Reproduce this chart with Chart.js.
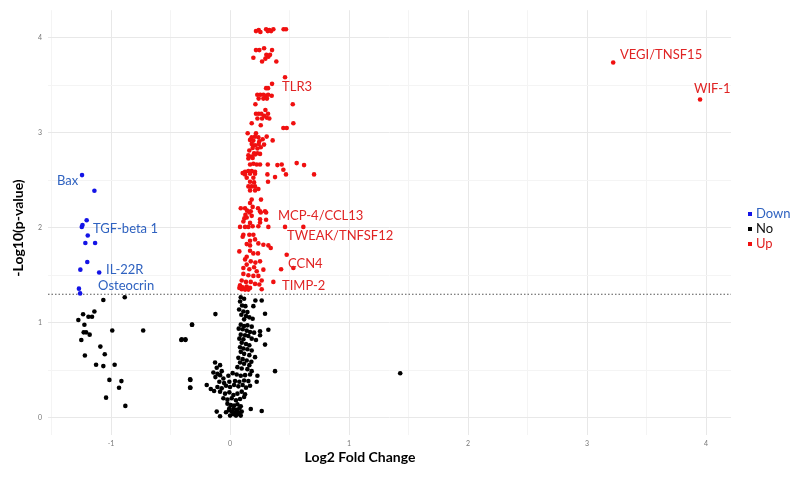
<!DOCTYPE html>
<html>
<head>
<meta charset="utf-8">
<script src="https://cdn.jsdelivr.net/npm/chart.js@4.4.1/dist/chart.umd.min.js"></script>
<style>
  html, body { margin: 0; padding: 0; background: #fff; }
  #wrap { width: 800px; height: 483px; position: relative; }
</style>
</head>
<body>
<div id="wrap"><canvas id="volcano"></canvas></div>
<script>
// significance cut-off, -log10(0.05)
const pThreshold = 1.301;

// [log2 fold change, -log10 p]
const downGenes = [
  [-1.244, 2.555], [-1.14, 2.39], [-1.205, 2.08], [-1.24, 2.03], [-1.246, 2.01],
  [-1.196, 1.92], [-1.216, 1.84], [-1.134, 1.84], [-1.20, 1.64], [-1.258, 1.56],
  [-1.10, 1.53], [-1.27, 1.36], [-1.26, 1.31]
];

const noGenes = [
  [-1.065, 1.24], [-0.885, 1.27], [-1.235, 1.09], [-1.14, 1.12], [-1.19, 1.065],
  [-1.16, 1.065], [-1.275, 1.03], [-1.224, 0.98], [-0.32, 0.98], [-0.99, 0.92],
  [-0.73, 0.92], [-1.23, 0.90], [-1.21, 0.90], [-1.18, 0.876], [-1.25, 0.82],
  [-0.41, 0.82], [-0.375, 0.82], [-1.09, 0.75], [-1.053, 0.67], [-1.22, 0.656],
  [-1.126, 0.56], [-1.065, 0.545], [-0.97, 0.56], [-1.014, 0.40], [-0.913, 0.387],
  [-0.933, 0.317], [-0.333, 0.40], [-0.333, 0.317], [-1.042, 0.213], [-0.88, 0.126],
  [1.43, 0.47],
  [0.09, 1.27], [0.118, 1.253], [0.084, 1.225], [0.101, 1.183], [0.129, 1.176],
  [0.076, 1.141], [0.112, 1.12], [0.146, 1.113], [0.095, 1.086], [0.134, 1.071],
  [0.162, 1.058], [0.118, 1.037], [0.19, 1.044], [0.213, 1.236], [0.266, 1.236],
  [0.196, 1.176], [0.294, 1.096], [-0.123, 1.092], [0.09, 0.981], [0.118, 0.967],
  [0.146, 0.974], [0.182, 0.96], [0.073, 0.939], [0.106, 0.932], [0.14, 0.918],
  [0.168, 0.904], [0.202, 0.897], [0.252, 0.911], [0.322, 0.928], [-0.319, 0.981],
  [0.09, 0.876], [0.126, 0.869], [0.154, 0.862], [0.078, 0.834], [0.112, 0.827],
  [0.182, 0.834], [0.218, 0.82], [0.252, 0.869], [-0.406, 0.827], [-0.375, 0.827],
  [0.098, 0.792], [0.134, 0.778], [0.162, 0.764], [0.084, 0.743], [0.112, 0.73],
  [0.146, 0.723], [0.182, 0.709], [0.294, 0.771], [0.09, 0.695], [0.118, 0.674],
  [0.162, 0.66], [0.21, 0.639], [0.07, 0.632], [0.106, 0.618], [0.14, 0.604],
  [0.084, 0.583], [0.118, 0.569], [0.162, 0.555], [0.179, 0.59], [-0.126, 0.583],
  [-0.084, 0.555], [-0.112, 0.527], [-0.07, 0.492], [0.062, 0.534], [0.098, 0.52],
  [0.146, 0.513], [0.182, 0.492], [0.378, 0.492], [-0.336, 0.405], [-0.336, 0.318],
  [-0.14, 0.478], [-0.106, 0.464], [-0.123, 0.429], [-0.084, 0.45], [-0.056, 0.415],
  [-0.014, 0.443], [0.022, 0.471], [0.056, 0.457], [0.09, 0.443], [0.126, 0.45],
  [0.168, 0.457], [0.23, 0.443], [-0.09, 0.38], [-0.05, 0.366], [-0.006, 0.38],
  [0.042, 0.387], [0.078, 0.38], [0.118, 0.394], [0.154, 0.387], [-0.196, 0.346],
  [-0.162, 0.304], [-0.134, 0.283], [-0.106, 0.325], [-0.07, 0.311], [-0.034, 0.339],
  [0.0, 0.325], [0.034, 0.346], [0.07, 0.332], [0.106, 0.346], [0.134, 0.318],
  [0.168, 0.339], [0.224, 0.38], [-0.084, 0.276], [-0.042, 0.255], [-0.006, 0.269],
  [0.028, 0.241], [0.062, 0.255], [0.098, 0.276], [0.126, 0.248], [-0.056, 0.206],
  [-0.022, 0.192], [0.014, 0.206], [0.05, 0.185], [0.084, 0.199], [0.118, 0.22],
  [-0.022, 0.15], [0.006, 0.136], [0.034, 0.129], [0.062, 0.143], [0.09, 0.122],
  [-0.006, 0.101], [0.028, 0.094], [0.056, 0.084], [0.078, 0.101], [0.014, 0.066],
  [0.042, 0.052], [0.07, 0.059], [0.098, 0.066], [-0.112, 0.066], [-0.084, 0.017],
  [0.174, 0.094], [0.266, 0.073], [-0.034, 0.059], [0.0, 0.024], [0.05, 0.024],
  [0.078, 0.038], [0.028, 0.038], [0.09, 0.024], [-0.01, 0.08]
];

const upGenes = [
  [3.22, 3.74], [3.95, 3.35],
  [0.218, 4.07], [0.241, 4.08], [0.255, 4.06], [0.303, 4.09], [0.317, 4.07],
  [0.33, 4.08], [0.345, 4.07], [0.364, 4.09], [0.45, 4.09], [0.47, 4.09],
  [0.218, 3.87], [0.246, 3.87], [0.286, 3.89], [0.353, 3.87], [0.196, 3.79],
  [0.305, 3.82], [0.336, 3.82], [0.322, 3.80], [0.297, 3.78], [0.269, 3.75],
  [0.389, 3.75], [0.462, 3.585], [0.353, 3.515], [0.303, 3.47], [0.319, 3.47],
  [0.229, 3.40], [0.254, 3.40], [0.28, 3.40], [0.30, 3.39], [0.32, 3.40],
  [0.35, 3.39], [0.24, 3.36], [0.28, 3.36], [0.31, 3.36], [0.213, 3.30],
  [0.527, 3.30], [0.297, 3.24], [0.218, 3.20], [0.241, 3.20], [0.263, 3.20],
  [0.319, 3.20], [0.286, 3.18], [0.308, 3.16], [0.23, 3.15], [0.269, 3.15],
  [0.33, 3.15], [0.182, 3.10], [0.258, 3.08], [0.532, 3.10], [0.448, 3.05],
  [0.476, 3.05], [0.358, 2.92],
  [0.148, 2.995], [0.218, 2.995], [0.182, 2.953], [0.21, 2.96], [0.238, 2.953],
  [0.308, 2.96], [0.168, 2.925], [0.196, 2.918], [0.246, 2.911], [0.274, 2.932],
  [0.182, 2.883], [0.21, 2.869], [0.241, 2.883], [0.286, 2.876], [0.19, 2.841],
  [0.23, 2.834], [0.258, 2.848], [0.162, 2.813], [0.202, 2.785], [0.23, 2.785],
  [0.252, 2.778], [0.154, 2.764], [0.182, 2.75], [0.21, 2.771], [0.154, 2.73],
  [0.19, 2.736], [0.168, 2.667], [0.196, 2.674], [0.224, 2.667], [0.252, 2.667],
  [0.317, 2.667], [0.398, 2.66], [0.434, 2.667], [0.56, 2.681], [0.622, 2.66],
  [0.126, 2.59], [0.154, 2.597], [0.182, 2.597], [0.21, 2.59], [0.126, 2.562],
  [0.168, 2.569], [0.21, 2.569], [0.314, 2.562], [0.378, 2.534], [0.448, 2.611],
  [0.47, 2.562], [0.706, 2.562], [0.14, 2.527], [0.196, 2.527], [0.106, 2.576],
  [0.168, 2.485], [0.202, 2.478], [0.319, 2.485], [0.154, 2.436], [0.182, 2.436],
  [0.21, 2.436], [0.238, 2.408], [0.168, 2.394], [0.21, 2.394], [0.182, 2.297],
  [0.26, 2.297], [0.168, 2.262], [0.09, 2.206], [0.126, 2.206], [0.19, 2.22],
  [0.235, 2.206], [0.143, 2.181], [0.174, 2.174], [0.252, 2.174], [0.294, 2.174],
  [0.129, 2.136], [0.12, 2.099], [0.303, 2.085],
  [0.162, 2.161], [0.258, 2.161], [0.303, 2.161], [0.14, 2.108], [0.182, 2.126],
  [0.252, 2.091], [0.112, 2.066], [0.168, 2.052], [0.252, 2.056], [0.084, 2.01],
  [0.126, 2.01], [0.154, 2.01], [0.19, 2.017], [0.238, 2.017], [0.322, 2.01],
  [0.462, 2.01], [0.616, 2.01], [0.112, 1.927], [0.162, 1.927], [0.196, 1.927],
  [0.106, 1.906], [0.168, 1.864], [0.21, 1.878], [0.238, 1.836], [0.14, 1.829],
  [0.168, 1.815], [0.322, 1.815], [0.342, 1.787], [0.28, 1.822], [0.078, 1.752],
  [0.168, 1.759], [0.196, 1.731], [0.235, 1.731], [0.14, 1.696], [0.476, 1.717],
  [0.126, 1.668], [0.174, 1.647], [0.213, 1.634], [0.252, 1.647], [0.14, 1.613],
  [0.429, 1.564], [0.532, 1.578], [0.112, 1.578], [0.162, 1.564], [0.202, 1.585],
  [0.224, 1.543], [0.112, 1.515], [0.154, 1.501], [0.238, 1.494], [0.196, 1.494],
  [0.266, 1.445], [0.364, 1.431], [0.098, 1.445], [0.134, 1.431], [0.174, 1.431],
  [0.21, 1.41], [0.084, 1.396], [0.106, 1.375], [0.14, 1.382], [0.168, 1.368],
  [0.246, 1.403], [0.098, 1.354], [0.126, 1.35], [0.154, 1.35], [0.078, 1.368],
  [0.266, 1.354], [0.28, 1.56]
];

// gene name, text left x, text centre y (data units), group
const geneLabels = [
  ['Bax', -1.454, 2.49, 'down'],
  ['TGF-beta 1', -1.151, 1.99, 'down'],
  ['IL-22R', -1.042, 1.56, 'down'],
  ['Osteocrin', -1.109, 1.39, 'down'],
  ['TLR3', 0.437, 3.48, 'up'],
  ['MCP-4/CCL13', 0.403, 2.13, 'up'],
  ['TWEAK/TNFSF12', 0.479, 1.92, 'up'],
  ['CCN4', 0.487, 1.62, 'up'],
  ['TIMP-2', 0.437, 1.39, 'up'],
  ['VEGI/TNSF15', 3.277, 3.82, 'up'],
  ['WIF-1', 3.899, 3.46, 'up']
];

const legendItems = ['Down', 'No', 'Up'];
const xRange = [-1.53, 4.21];
const yRange = [-0.18, 4.29];
// gridlines every 0.5, labels on whole numbers only
const xTicks = [-1.5, -1, -0.5, 0, 0.5, 1, 1.5, 2, 2.5, 3, 3.5, 4];
const yTicks = [0, 0.5, 1, 1.5, 2, 2.5, 3, 3.5, 4];

const pointColors = { down: '#1414e6', no: '#000000', up: '#f01010' };
const textColors = { down: '#2f62c0', no: '#111111', up: '#e02424' };
const FONT = 'Lato, "Open Sans", sans-serif';

const toXY = (list) => list.map(([x, y]) => ({ x, y }));
const isWhole = (v) => Math.abs(v - Math.round(v)) < 1e-6;

const decorations = {
  id: 'decorations',
  beforeDatasetsDraw(chart) {
    const { ctx, chartArea, scales } = chart;
    const y = scales.y.getPixelForValue(pThreshold);
    ctx.save();
    ctx.strokeStyle = '#555';
    ctx.lineWidth = 1;
    ctx.setLineDash([1.5, 2]);
    ctx.beginPath();
    ctx.moveTo(chartArea.left, y);
    ctx.lineTo(chartArea.right, y);
    ctx.stroke();
    ctx.restore();
  },
  afterDraw(chart) {
    const { ctx, scales } = chart;
    ctx.save();
    ctx.textBaseline = 'middle';
    ctx.textAlign = 'left';
    ctx.font = '13px ' + FONT;
    geneLabels.forEach(([name, x, y, group]) => {
      ctx.fillStyle = textColors[group];
      ctx.fillText(name, scales.x.getPixelForValue(x), scales.y.getPixelForValue(y));
    });

    // axis titles
    ctx.fillStyle = '#000';
    ctx.font = 'bold 14px ' + FONT;
    ctx.textAlign = 'center';
    ctx.fillText('Log2 Fold Change', 360, 457);
    ctx.save();
    ctx.translate(18, 228);
    ctx.rotate(-Math.PI / 2);
    ctx.fillText('-Log10(p-value)', 0, 0);
    ctx.restore();

    // legend
    ctx.textAlign = 'left';
    ctx.font = '13px ' + FONT;
    const keys = ['down', 'no', 'up'];
    legendItems.forEach((label, i) => {
      const cy = 214 + i * 15;
      ctx.fillStyle = pointColors[keys[i]];
      ctx.fillRect(748, cy - 2, 4, 4);
      ctx.fillStyle = textColors[keys[i]];
      ctx.fillText(label, 756, cy);
    });
    ctx.restore();
  }
};

const dataset = (label, list, key) => ({
  label,
  data: toXY(list),
  backgroundColor: pointColors[key],
  borderWidth: 0,
  pointRadius: 2.3,
  pointHoverRadius: 2.3
});

const axis = (range, ticks, extra) => Object.assign({
  type: 'linear',
  min: range[0],
  max: range[1],
  afterBuildTicks: (s) => { s.ticks = ticks.map((value) => ({ value })); },
  border: { display: false },
  grid: {
    drawTicks: false,
    color: (c) => (c.tick && isWhole(c.tick.value) ? '#e8e8e8' : '#f4f4f4'),
    lineWidth: 1
  }
}, extra);

new Chart(document.getElementById('volcano'), {
  type: 'scatter',
  data: {
    datasets: [
      dataset('No', noGenes, 'no'),
      dataset('Up', upGenes, 'up'),
      dataset('Down', downGenes, 'down')
    ]
  },
  options: {
    responsive: true,
    maintainAspectRatio: false,
    animation: false,
    layout: { padding: { top: 4, right: 69, bottom: 0, left: 0 } },
    plugins: {
      legend: { display: false },
      tooltip: { enabled: false }
    },
    scales: {
      x: axis(xRange, xTicks, {
        afterFit: (s) => { s.height = 48; },
        ticks: {
          padding: 5,
          color: '#777',
          font: { size: 7, family: FONT },
          maxRotation: 0,
          autoSkip: false,
          callback: (v) => (isWhole(v) ? String(Math.round(v)) : '')
        }
      }),
      y: axis(yRange, yTicks, {
        afterFit: (s) => { s.width = 48; },
        ticks: {
          padding: 6,
          color: '#777',
          font: { size: 7, family: FONT },
          autoSkip: false,
          callback: (v) => (isWhole(v) ? String(Math.round(v)) : '')
        }
      })
    }
  },
  plugins: [decorations]
});
</script>
</body>
</html>
